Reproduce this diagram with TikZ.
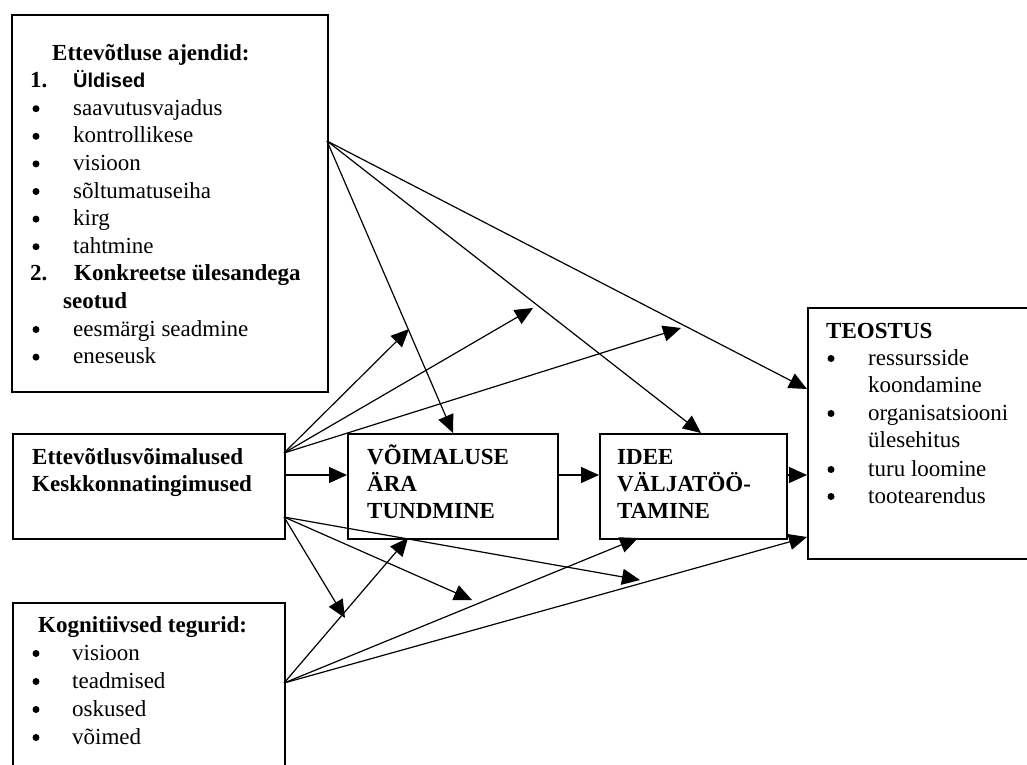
\documentclass[tikz,border=0pt]{standalone}
\usepackage{fontspec}
\setmainfont{Liberation Serif}
\newfontfamily\sansf{Liberation Sans}
\usetikzlibrary{arrows.meta}
\begin{document}
\begin{tikzpicture}[x=1pt,y=-1pt,
  box/.style={draw, line width=2pt, inner sep=0pt, anchor=north west},
  txt/.style={inner sep=0pt, anchor=base west, font=\fontsize{23}{27.6}\selectfont},
  bt/.style={inner sep=0pt, anchor=base west, font=\fontsize{23}{27.6}\selectfont\bfseries},
  st/.style={inner sep=0pt, anchor=base west, font=\fontsize{20}{27.6}\selectfont\sansf\bfseries},
  bul/.style={circle, fill, inner sep=0pt, minimum size=7pt},
  arr/.style={-{Triangle[length=18pt,width=16pt]}, line width=1.2pt},
]
\useasboundingbox (0,0) rectangle (1027,764);

% boxes
\node[box, minimum width=316pt, minimum height=377pt] (A) at (11,14) {};
\node[box, minimum width=272pt, minimum height=105pt] (B) at (12,433) {};
\node[box, minimum width=272pt, minimum height=210pt] (C) at (12,602) {};
\node[box, minimum width=210pt, minimum height=105pt] (V) at (347,433) {};
\node[box, minimum width=187pt, minimum height=105pt] (I) at (599,433) {};
\node[box, minimum width=240pt, minimum height=251pt] (T) at (807,307) {};

% texts of A
\node[bt] (a0) at (52,60) {Ettevõtluse ajendid:};
\node[bt] (a1n) at (30,87.6) {1.};
\node[st] (a1) at (73,87.6) {Üldised};
\node[bul] (a2b) at (36,108.7) {};  \node[txt] (a2) at (73,115.2) {saavutusvajadus};
\node[bul] (a3b) at (36,136.3) {};  \node[txt] (a3) at (73,142.8) {kontrollikese};
\node[bul] (a4b) at (36,163.9) {};  \node[txt] (a4) at (73,170.4) {visioon};
\node[bul] (a5b) at (36,191.5) {};  \node[txt] (a5) at (73,198) {sõltumatuseiha};
\node[bul] (a6b) at (36,219.1) {};  \node[txt] (a6) at (73,225.6) {kirg};
\node[bul] (a7b) at (36,246.7) {};  \node[txt] (a7) at (73,253.2) {tahtmine};
\node[bt] (a8n) at (30,280.8) {2.};
\node[bt] (a8) at (74,280.8) {Konkreetse ülesandega};
\node[bt] (a9) at (63,308.4) {seotud};
\node[bul] (a10b) at (36,329.5) {}; \node[txt] (a10) at (73,336) {eesmärgi seadmine};
\node[bul] (a11b) at (36,357.1) {}; \node[txt] (a11) at (73,363.6) {eneseusk};

% texts of B
\node[bt] (b1) at (32,464) {Ettevõtlusvõimalused};
\node[bt] (b2) at (32,491) {Keskkonnatingimused};

% texts of C
\node[bt] (c0) at (38,632) {Kognitiivsed tegurid:};
\node[bul] (c1b) at (36,653.5) {}; \node[txt] (c1) at (72,660) {visioon};
\node[bul] (c2b) at (36,681.5) {}; \node[txt] (c2) at (72,688) {teadmised};
\node[bul] (c3b) at (36,709.5) {}; \node[txt] (c3) at (72,716) {oskused};
\node[bul] (c4b) at (36,737.5) {}; \node[txt] (c4) at (72,744) {võimed};

% texts of V and I
\node[bt] (v1) at (367,464) {VÕIMALUSE};
\node[bt] (v2) at (367,491) {ÄRA};
\node[bt] (v3) at (367,518) {TUNDMINE};
\node[bt] (i1) at (617,464) {IDEE};
\node[bt] (i2) at (617,491) {VÄLJATÖÖ-};
\node[bt] (i3) at (617,518) {TAMINE};

% texts of T
\node[bt] (t0) at (826,338) {TEOSTUS};
\node[bul] (t1b) at (831,358.5) {}; \node[txt] (t1) at (868,365) {ressursside};
\node[txt] (t1c) at (868,392) {koondamine};
\node[bul] (t2b) at (831,413.5) {}; \node[txt] (t2) at (868,420) {organisatsiooni};
\node[txt] (t2c) at (868,447) {ülesehitus};
\node[bul] (t3b) at (831,469.5) {}; \node[txt] (t3) at (868,476) {turu loomine};
\node[bul] (t4b) at (831,496.5) {}; \node[txt] (t4) at (868,503) {tootearendus};

% connector points
\coordinate (sA) at (327,141);
\coordinate (sB1) at (284,453);
\coordinate (sB2) at (284,475);
\coordinate (sB3) at (284,517);
\coordinate (sC) at (284,683);
\coordinate (f1) at (409,329);
\coordinate (f2) at (533,308);
\coordinate (f3) at (681,328);
\coordinate (f4) at (345,618);
\coordinate (f5) at (472,600);
\coordinate (f6) at (640,580);
\coordinate (tI1) at (701,433);
\coordinate (tT1) at (807,389);
\coordinate (tV3) at (408,538);
\coordinate (tI3) at (638,538);
\coordinate (tT3) at (807,537);

% arrows from A
\draw[arr] (sA) -- (V.north);
\draw[arr] (sA) -- (tI1);
\draw[arr] (sA) -- (tT1);
% arrows from B
\draw[arr] (sB1) -- (f1);
\draw[arr] (sB1) -- (f2);
\draw[arr] (sB1) -- (f3);
\draw[arr] (sB2) -- (sB2 -| V.west);
\draw[arr] (sB3) -- (f4);
\draw[arr] (sB3) -- (f5);
\draw[arr] (sB3) -- (f6);
% main chain
\draw[arr] (sB2 -| V.east) -- (sB2 -| I.west);
\draw[arr] (sB2 -| I.east) -- (sB2 -| T.west);
% arrows from C
\draw[arr] (sC) -- (tV3);
\draw[arr] (sC) -- (tI3);
\draw[arr] (sC) -- (tT3);
\end{tikzpicture}
\end{document}
